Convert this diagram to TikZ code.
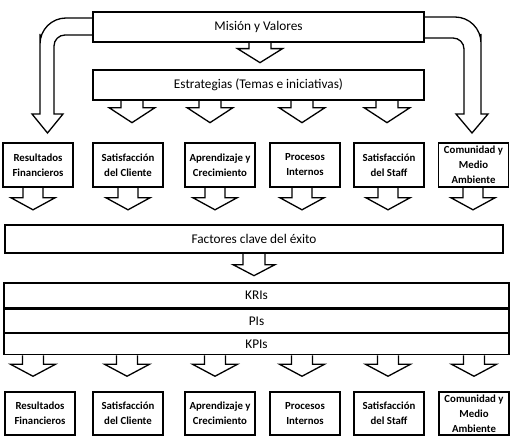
\documentclass[tikz,border=0pt]{standalone}
\usepackage{fontspec}
\setmainfont{Carlito}
\usetikzlibrary{calc}
\tikzset{
  band/.style={draw, line width=1.3pt, inner sep=0pt, font=\fontsize{13.3}{15}\selectfont},
  ibox/.style={draw, line width=1.6pt, inner sep=0pt, minimum width=70pt, minimum height=44pt,
    align=center, font=\fontsize{10.8}{15}\selectfont\bfseries},
  barr/.style={draw, line width=1.3pt, line join=miter},
}
% block arrow: #1 top anchor, #2 shaft length, #3 head length, #4 shaft half width, #5 head half width
\newcommand\blockarr[5]{%
  \draw[barr] ($(#1)+(-#4,0)$) -- ++(0,#2) -- ++({-(#5-#4)},0) -- ++(#5,#3) -- ++(#5,-#3) -- ++({-(#5-#4)},0) -- ++(0,-#2);}
\begin{document}
\begin{tikzpicture}[x=1pt,y=-1pt]
\useasboundingbox (0,0) rectangle (514,444);
% bands
\node[band, minimum width=331pt, minimum height=30pt] (mv) at (258.5,27) {Misión y Valores};
\node[band, minimum width=331pt, minimum height=30pt] (es) at (258.5,85) {Estrategias (Temas e iniciativas)};
% top row boxes
\node[ibox] (t1) at (38,165) {Resultados\\Financieros};
\node[ibox] (t2) at (128,165) {Satisfacción\\del Cliente};
\node[ibox] (t3) at (220,165) {Aprendizaje y\\Crecimiento};
\node[ibox] (t4) at (305,165) {Procesos\\Internos};
\node[ibox] (t5) at (389,165) {Satisfacción\\del Staff};
\node[ibox] (t6) at (473.5,165) {Comunidad y\\Medio\\Ambiente};
% factores
\node[band, minimum width=498pt, minimum height=28pt] (fc) at (254,239) {Factores clave del éxito};
% indicator bands
\node[band, minimum width=505pt, minimum height=25pt] (kri) at (256.5,295.5) {KRIs};
\node[band, minimum width=505pt, minimum height=23pt, anchor=north] (pi) at (kri.south) {PIs};
\node[band, minimum width=505pt, minimum height=21pt, anchor=north] (kpi) at (pi.south) {KPIs};
% bottom row boxes
\node[ibox, line width=1.3pt, minimum height=43pt] (b1) at (40,413.5) {Resultados\\Financieros};
\node[ibox, line width=1.3pt, minimum height=43pt] (b2) at (128,413.5) {Satisfacción\\del Cliente};
\node[ibox, line width=1.3pt, minimum height=43pt] (b3) at (220,413.5) {Aprendizaje y\\Crecimiento};
\node[ibox, line width=1.3pt, minimum height=43pt] (b4) at (305,413.5) {Procesos\\Internos};
\node[ibox, line width=1.3pt, minimum height=43pt] (b5) at (389,413.5) {Satisfacción\\del Staff};
\node[ibox, line width=1.3pt, minimum height=43pt] (b6) at (474,413.5) {Comunidad y\\Medio\\Ambiente};
% arrow Mision -> Estrategias
\blockarr{260,0 |- mv.south}{6}{14}{11}{22.5}
% arrows Estrategias -> row
\foreach \x in {132,210,302,387}{\blockarr{\x,0 |- es.south}{7}{15}{11}{23}}
% arrows top row -> factores
\foreach \x in {33,128,215,302,388,473}{\blockarr{\x,0 |- t1.south}{10}{12}{10}{22}}
% arrow factores -> KRIs
\blockarr{254,0 |- fc.south}{11}{11}{11}{21}
% arrows KPIs -> bottom row
\foreach \x in {33,127,215,302,388,474}{\blockarr{\x,0 |- kpi.south}{9}{12}{10.5}{22.5}}
% curved arrows from Mision
\draw[barr] (mv.west |- 0,18) [rounded corners=26pt] -- (40,18) -- (40,60) [sharp corners]
  -- (40,114) -- (32,114) -- (47.5,133) -- (63,114) -- (54,114) -- (54,50)
  [rounded corners=11pt] -- (54,35) -- (mv.west |- 0,35);
\draw[barr] (mv.east |- 0,17) [rounded corners=26pt] -- (481,17) -- (481,60) [sharp corners]
  -- (481,114) -- (488,114) -- (472,133) -- (456,114) -- (464,114) -- (464,50)
  [rounded corners=11pt] -- (464,38) -- (mv.east |- 0,38);
\end{tikzpicture}
\end{document}
